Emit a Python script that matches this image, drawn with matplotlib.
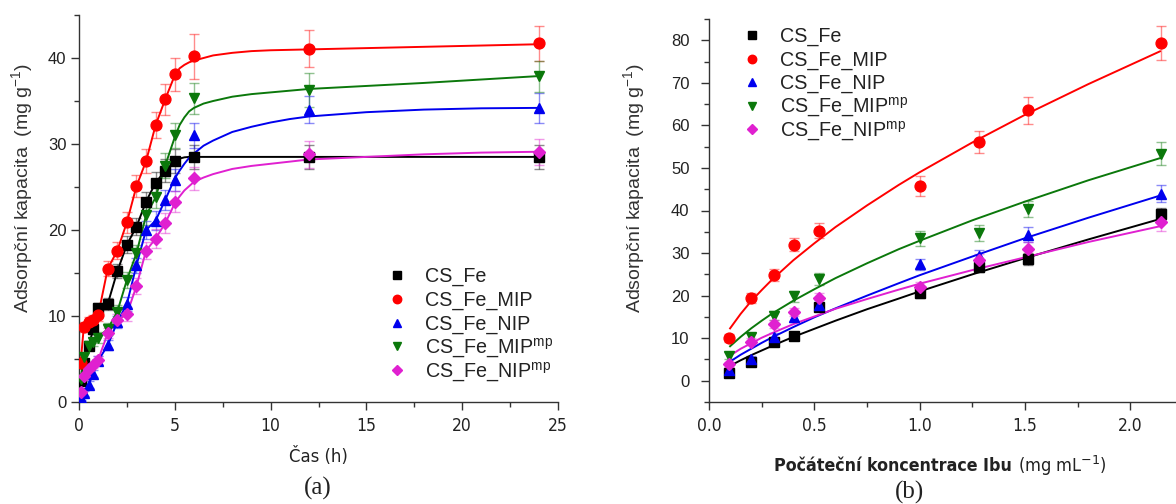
import numpy as np
import matplotlib
matplotlib.use("Agg")
import matplotlib.pyplot as plt
from matplotlib import font_manager as fm
from matplotlib.lines import Line2D
from matplotlib.ticker import MultipleLocator, FormatStrFormatter

# ---------------- data: (a) kinetics ----------------
time_h = [0.083, 0.25, 0.5, 0.75, 1.0, 1.5, 2.0, 2.5, 3.0, 3.5, 4.0, 4.5, 5.0, 6.0, 12.0, 24.0]
kin_fe = [2.5, 4.5, 6.5, 8.5, 10.9, 11.4, 15.2, 18.3, 20.4, 23.3, 25.5, 26.9, 28.0, 28.5, 28.5, 28.5]
kin_mip = [4.5, 8.7, 9.3, 9.5, 10.1, 15.5, 17.6, 20.9, 25.1, 28.0, 32.2, 35.2, 38.1, 40.2, 41.1, 41.7]
kin_nip = [0.5, 1.0, 2.0, 3.3, 4.8, 6.6, 9.3, 11.4, 15.9, 20.0, 21.1, 23.5, 25.8, 31.0, 34.0, 34.2]
kin_mipmp = [2.7, 5.2, 6.5, 7.0, 7.5, 8.5, 10.5, 14.2, 17.3, 21.7, 23.8, 27.5, 31.0, 35.3, 36.3, 37.9]
kin_nipmp = [1.2, 3.0, 3.8, 4.3, 4.9, 8.0, 9.5, 10.2, 13.5, 17.6, 19.0, 20.8, 23.3, 26.0, 28.8, 29.1]

kin_fe_err = [0.4, 0.5, 0.5, 0.6, 0.6, 0.7, 0.8, 1.0, 1.0, 1.1, 1.2, 1.3, 1.4, 1.4, 1.4, 1.4]
kin_mip_err = [0.5, 0.6, 0.6, 0.6, 0.7, 0.9, 1.0, 1.2, 1.3, 1.4, 1.5, 1.8, 1.9, 2.6, 2.1, 2.0]
kin_nip_err = [0.3, 0.3, 0.4, 0.4, 0.5, 0.6, 0.7, 0.8, 0.9, 1.0, 1.1, 1.2, 1.3, 1.5, 1.6, 1.7]
kin_mipmp_err = [0.4, 0.5, 0.5, 0.5, 0.6, 0.7, 0.8, 0.9, 1.0, 1.1, 1.2, 1.4, 1.5, 1.8, 2.0, 1.8]
kin_nipmp_err = [0.3, 0.4, 0.4, 0.4, 0.5, 0.6, 0.7, 0.8, 0.9, 1.0, 1.1, 1.2, 1.2, 1.3, 1.6, 1.5]

# fitted curves for t >= 5 h
kin_fit_t = [5.0, 5.25, 5.5, 5.75, 6.0, 6.5, 7.0, 8.0, 9.0, 10.0, 11.0, 12.0, 15.0, 18.0, 21.0, 24.0]
kin_fit_fe = [28.0, 28.3, 28.45, 28.5, 28.5, 28.5, 28.5, 28.5, 28.5, 28.5, 28.5, 28.5, 28.5, 28.5, 28.5, 28.5]
kin_fit_mip = [38.0, 38.8, 39.2, 39.5, 39.7, 40.0, 40.3, 40.6, 40.8, 40.9, 40.95, 41.0, 41.15, 41.3, 41.45, 41.6]
kin_fit_nip = [26.0, 26.9, 27.7, 28.4, 28.9, 29.8, 30.4, 31.4, 32.0, 32.5, 32.9, 33.2, 33.7, 34.0, 34.15, 34.2]
kin_fit_mipmp = [30.8, 32.2, 33.1, 33.8, 34.2, 34.7, 35.0, 35.5, 35.8, 36.0, 36.2, 36.4, 36.75, 37.1, 37.5, 37.9]
kin_fit_nipmp = [23.1, 23.9, 24.6, 25.1, 25.6, 26.1, 26.5, 27.1, 27.45, 27.7, 27.95, 28.2, 28.5, 28.8, 29.0, 29.1]

# ---------------- data: (b) isotherms ----------------
conc = [0.095, 0.2, 0.31, 0.405, 0.52, 1.0, 1.28, 1.515, 2.145]
iso_fe = [1.7, 4.5, 9.0, 10.6, 17.3, 20.5, 26.7, 28.6, 39.2]
iso_mip = [10.0, 19.4, 24.9, 32.0, 35.3, 45.7, 56.1, 63.5, 79.4]
iso_nip = [2.5, 5.1, 10.3, 14.9, 17.9, 27.4, 29.2, 34.3, 43.9]
iso_mipmp = [5.9, 10.2, 15.3, 19.8, 23.9, 33.5, 34.7, 40.4, 53.3]
iso_nipmp = [3.9, 9.2, 13.3, 16.1, 19.4, 22.0, 28.4, 31.0, 37.3]

iso_fe_err = [0.5, 0.6, 0.8, 0.9, 1.0, 1.1, 1.2, 1.3, 1.5]
iso_mip_err = [1.0, 1.2, 1.4, 1.6, 1.8, 2.4, 2.6, 3.1, 4.0]
iso_nip_err = [0.6, 0.8, 0.9, 1.0, 1.1, 1.3, 1.5, 1.8, 2.0]
iso_mipmp_err = [0.8, 0.9, 1.1, 1.2, 1.5, 1.8, 1.8, 1.9, 2.7]
iso_nipmp_err = [0.6, 0.8, 0.9, 1.0, 1.1, 1.2, 1.4, 1.6, 2.0]

iso_fit_c = [0.1, 0.15, 0.2, 0.25, 0.3, 0.4, 0.5, 0.6, 0.75, 0.9, 1.0, 1.25, 1.5, 1.8, 2.14]
iso_fit_fe = [3.5, 4.8, 6.0, 7.1, 8.2, 10.3, 12.2, 14.1, 16.8, 19.3, 21.0, 25.0, 28.8, 33.2, 38.0]
iso_fit_mip = [12.3, 15.7, 18.7, 21.3, 23.8, 28.3, 32.3, 36.1, 41.2, 46.0, 49.0, 56.0, 62.5, 69.7, 77.4]
iso_fit_nip = [4.5, 6.1, 7.5, 8.9, 10.2, 12.6, 14.9, 17.0, 20.0, 22.9, 24.8, 29.2, 33.5, 38.3, 43.5]
iso_fit_mipmp = [8.1, 10.3, 12.3, 14.1, 15.8, 18.8, 21.5, 24.1, 27.6, 30.9, 32.9, 37.7, 42.1, 47.1, 52.3]
iso_fit_nipmp = [5.9, 7.5, 8.8, 10.1, 11.2, 13.3, 15.1, 16.9, 19.2, 21.4, 22.8, 26.0, 29.0, 32.6, 36.3]

labels = ["CS_Fe", "CS_Fe_MIP", "CS_Fe_NIP", r"CS_Fe_MIP$^{\mathrm{mp}}$", r"CS_Fe_NIP$^{\mathrm{mp}}$"]
colors = ["#000000", "#ff0000", "#0000ee", "#0b780b", "#e020d0"]
markers = ["s", "o", "^", "v", "D"]
msizes = [6.5, 7.8, 7.6, 7.6, 6.0]

# ---------------- fonts ----------------
def pick_condensed(target_weight):
    best, best_score = None, None
    for f in fm.fontManager.ttflist:
        txt = (f.name + " " + f.fname).lower()
        if not ("narrow" in txt or "condensed" in txt or "cond" in txt):
            continue
        if f.style != "normal":
            continue
        w = f.weight if isinstance(f.weight, int) else {"normal": 400, "regular": 400, "bold": 700,
                                                         "light": 300}.get(str(f.weight), 400)
        score = abs(w - target_weight)
        if best_score is None or score < best_score:
            best, best_score = f, score
    if best is None:
        return fm.FontProperties(family="Liberation Sans", weight=target_weight)
    return fm.FontProperties(fname=best.fname)


cond_regular = pick_condensed(400)
cond_bold = pick_condensed(700)

plt.rcParams["font.family"] = ["Liberation Sans", "DejaVu Sans"]
plt.rcParams["mathtext.fontset"] = "custom"
plt.rcParams["mathtext.rm"] = "Liberation Sans"
plt.rcParams["mathtext.it"] = "Liberation Sans:italic"
plt.rcParams["mathtext.bf"] = "Liberation Sans:bold"

W, H = 1176, 504
fig = plt.figure(figsize=(W / 100, H / 100), dpi=100)


def fx(px):
    return px / W


def fy(py):
    return 1 - py / H


ax1 = fig.add_axes([fx(79), fy(402), fx(558) - fx(79), fy(15) - fy(402)])
ax2 = fig.add_axes([fx(709), fy(402), 1 - fx(709), fy(19) - fy(402)])

for ax in (ax1, ax2):
    for s in ("top", "right"):
        ax.spines[s].set_visible(False)
    for s in ("left", "bottom"):
        ax.spines[s].set_linewidth(1.0)
        ax.spines[s].set_color("#333333")
    ax.tick_params(which="major", direction="out", length=6, width=1.0, color="#333333")
    ax.tick_params(which="minor", direction="out", length=3.5, width=1.0, color="#333333")
    ax.tick_params(axis="y", labelsize=12, labelcolor="#222222", pad=3)
    ax.tick_params(axis="x", labelcolor="#222222", pad=5)

# ---------------- panel (a) ----------------
t = np.array(time_h)
kin_sets = [(kin_fe, kin_fe_err, kin_fit_fe), (kin_mip, kin_mip_err, kin_fit_mip),
            (kin_nip, kin_nip_err, kin_fit_nip), (kin_mipmp, kin_mipmp_err, kin_fit_mipmp),
            (kin_nipmp, kin_nipmp_err, kin_fit_nipmp)]
for (y, e, fit), c, m, ms in zip(kin_sets, colors, markers, msizes):
    y = np.array(y)
    early = t < 5
    line_t = np.concatenate([t[early], kin_fit_t])
    line_y = np.concatenate([y[early], fit])
    ax1.errorbar(t, y, yerr=e, fmt="none", ecolor=c, alpha=0.45, elinewidth=1.0,
                 capsize=3.5, capthick=1.0, zorder=2)
    ax1.plot(line_t, line_y, color=c, lw=1.4, zorder=3)
    ax1.plot(t, y, linestyle="none", marker=m, color=c, markersize=ms, zorder=4)

ax1.set_xlim(0, 25)
ax1.set_ylim(0, 45)
ax1.xaxis.set_major_locator(MultipleLocator(5))
ax1.xaxis.set_minor_locator(MultipleLocator(2.5))
ax1.yaxis.set_major_locator(MultipleLocator(10))
ax1.yaxis.set_minor_locator(MultipleLocator(5))
ax1.set_ylabel(r"Adsorpční kapacita  (mg g$^{\mathrm{-1}}$)", fontsize=14, color="#333333")
ax1.yaxis.set_label_coords(-0.092, 0.554)

# ---------------- panel (b) ----------------
iso_sets = [(iso_fe, iso_fe_err, iso_fit_fe), (iso_mip, iso_mip_err, iso_fit_mip),
            (iso_nip, iso_nip_err, iso_fit_nip), (iso_mipmp, iso_mipmp_err, iso_fit_mipmp),
            (iso_nipmp, iso_nipmp_err, iso_fit_nipmp)]
for (y, e, fit), c, m, ms in zip(iso_sets, colors, markers, msizes):
    ax2.errorbar(conc, y, yerr=e, fmt="none", ecolor=c, alpha=0.45, elinewidth=1.0,
                 capsize=3.5, capthick=1.0, zorder=2)
    ax2.plot(iso_fit_c, fit, color=c, lw=1.4, zorder=3)
    ax2.plot(conc, y, linestyle="none", marker=m, color=c, markersize=ms, zorder=4)

ax2.set_xlim(0, 2.216)
ax2.set_ylim(-5, 85)
ax2.xaxis.set_major_locator(MultipleLocator(0.5))
ax2.xaxis.set_minor_locator(MultipleLocator(0.25))
ax2.yaxis.set_major_locator(MultipleLocator(10))
ax2.yaxis.set_minor_locator(MultipleLocator(5))
ax2.xaxis.set_major_formatter(FormatStrFormatter("%.1f"))
ax2.tick_params(axis="y", pad=8)
ax2.set_ylabel(r"Adsorpční kapacita  (mg g$^{\mathrm{-1}}$)", fontsize=14, color="#333333")
ax2.yaxis.set_label_coords(-0.133, 0.560)

for ax in (ax1, ax2):
    for lab in ax.get_xticklabels():
        lab.set_fontproperties(cond_regular)
        lab.set_fontsize(12.5)

# ---------------- legends (drawn as figure artists) ----------------
def draw_legend(x_marker, x_text, rows_y):
    for lab, c, m, ms, yy in zip(labels, colors, markers, msizes, rows_y):
        fig.add_artist(Line2D([fx(x_marker)], [fy(yy)], transform=fig.transFigure,
                              linestyle="none", marker=m, color=c, markersize=ms * 0.78))
        fig.text(fx(x_text), fy(yy + 7), lab, fontsize=14.2, ha="left", va="baseline",
                 color="#222222")


draw_legend(396.7, 425, [275, 298.75, 322.5, 346.25, 370])
draw_legend(751.7, 780, [35, 58.5, 82, 105.5, 129])

# ---------------- axis titles / panel letters ----------------
fig.text(fx(318), fy(457), "Čas (h)", fontproperties=cond_regular, fontsize=13.2, ha="center",
         va="center", color="#222222")
fig.text(fx(1012), fy(466), "Počáteční koncentrace Ibu", fontproperties=cond_bold, fontsize=12.8,
         ha="right", va="center", color="#222222")
fig.text(fx(1018), fy(466), r"(mg mL$^{\mathrm{-1}}$)", fontproperties=cond_regular, fontsize=13,
         ha="left", va="center", color="#222222")
fig.text(fx(318), fy(488), "(a)", family="Liberation Serif", fontsize=18, ha="center",
         va="center", color="#222222")
fig.text(fx(910), fy(492), "(b)", family="Liberation Serif", fontsize=18, ha="center",
         va="center", color="#222222")

fig.savefig("out.png", dpi=100)
